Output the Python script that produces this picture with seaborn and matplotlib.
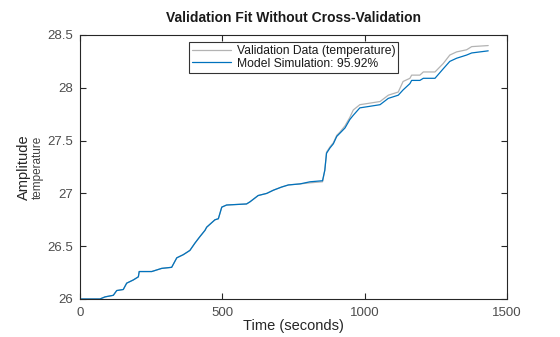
import numpy as np
import pandas as pd
import matplotlib
matplotlib.use("Agg")
import matplotlib.pyplot as plt
import seaborn as sns

time_s = [0, 70, 88, 117, 129, 152, 164, 187, 205, 208, 252, 287, 322, 340, 363, 386,
          404, 421, 439, 445, 474, 486, 498, 515, 585, 597, 626, 656, 679, 708, 732,
          773, 808, 852, 860, 866, 878, 890, 902, 913, 931, 948, 960, 983, 1007, 1054,
          1083, 1118, 1135, 1159, 1165, 1194, 1206, 1247, 1276, 1299, 1323, 1358, 1376, 1434]

validation = [26.0, 26.0, 26.02, 26.035, 26.08, 26.09, 26.15, 26.18, 26.21, 26.26, 26.26,
              26.29, 26.30, 26.39, 26.42, 26.46, 26.53, 26.59, 26.65, 26.68, 26.75, 26.76,
              26.87, 26.89, 26.90, 26.92, 26.98, 27.00, 27.03, 27.06, 27.08, 27.09, 27.10,
              27.11, 27.22, 27.39, 27.44, 27.48, 27.55, 27.58, 27.64, 27.72, 27.79, 27.84,
              27.85, 27.87, 27.93, 27.96, 28.06, 28.09, 28.12, 28.12, 28.15, 28.15, 28.23,
              28.31, 28.34, 28.36, 28.39, 28.40]

simulation = [26.0, 26.0, 26.02, 26.035, 26.08, 26.09, 26.15, 26.18, 26.21, 26.26, 26.26,
              26.29, 26.30, 26.39, 26.42, 26.46, 26.53, 26.59, 26.65, 26.68, 26.75, 26.76,
              26.87, 26.89, 26.90, 26.92, 26.98, 27.00, 27.03, 27.06, 27.08, 27.09, 27.11,
              27.12, 27.22, 27.38, 27.43, 27.47, 27.54, 27.57, 27.62, 27.70, 27.74, 27.81,
              27.82, 27.84, 27.90, 27.93, 27.98, 28.04, 28.07, 28.07, 28.09, 28.09, 28.18,
              28.25, 28.28, 28.31, 28.33, 28.35]

series_names = ["Validation Data (temperature)", "Model Simulation: 95.92%"]
x_ticks = [0, 500, 1000, 1500]
y_ticks = [26, 26.5, 27, 27.5, 28, 28.5]
y_tick_labels = ["26", "26.5", "27", "27.5", "28", "28.5"]

df = pd.DataFrame({
    "Time": time_s * 2,
    "Value": validation + simulation,
    "Series": [series_names[0]] * len(time_s) + [series_names[1]] * len(time_s),
})

sns.set_style("white")
plt.rcParams["font.family"] = ["Liberation Sans", "DejaVu Sans"]

fig = plt.figure(figsize=(5.6, 3.37), dpi=100)
ax = fig.add_axes([80 / 560, 1 - 299 / 337, 427 / 560, 264 / 337])

palette = {series_names[0]: "#b3b3b3", series_names[1]: "#0072BD"}
sns.lineplot(data=df, x="Time", y="Value", hue="Series", palette=palette,
             linewidth=0.9, ax=ax, legend=True, estimator=None, sort=False)

ax.set_xlim(0, 1500)
ax.set_ylim(26, 28.5)
ax.set_xticks(x_ticks)
ax.set_yticks(y_ticks)
ax.set_yticklabels(y_tick_labels)

axcol = "#262626"
for s in ax.spines.values():
    s.set_visible(True)
    s.set_color(axcol)
    s.set_linewidth(0.8)
ax.tick_params(axis="both", direction="in", length=4, width=0.8, color=axcol,
               labelsize=9.5, labelcolor="#4d4d4d", top=True, right=True,
               bottom=True, left=True)
ax.tick_params(axis="x", pad=6)
ax.tick_params(axis="y", pad=5)

ax.set_xlabel("Time (seconds)", fontsize=10.5, color="#262626", labelpad=0)
ax.set_ylabel("")
ax.set_title("Validation Fit Without Cross-Validation", fontsize=10,
             fontweight="bold", color="#1a1a1a", pad=9)

fig.text(24 / 560, 1 - 167 / 337, "Amplitude", rotation=90, fontsize=10.5,
         color="#262626", ha="center", va="center")
fig.text(38 / 560, 1 - 167 / 337, "temperature", rotation=90, fontsize=8.5,
         color="#404040", ha="center", va="center")

leg = ax.legend(loc="upper center", bbox_to_anchor=(0.5, 1 - 7 / 264),
                borderaxespad=0, fontsize=8.7, frameon=True, fancybox=False,
                handlelength=3.2, handletextpad=0.5, borderpad=0.25,
                labelspacing=0.05, title=None)
leg.get_frame().set_edgecolor("#000000")
leg.get_frame().set_linewidth(0.8)
for t in leg.get_texts():
    t.set_color("#1a1a1a")

fig.savefig("out.png", dpi=100)
